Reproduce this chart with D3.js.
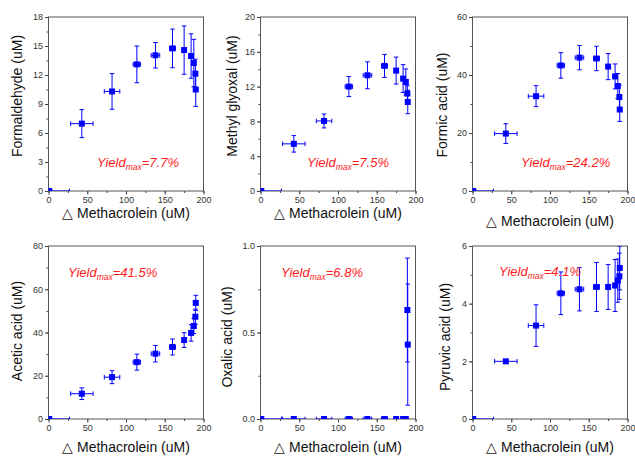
<!DOCTYPE html>
<html>
<head>
<meta charset="utf-8">
<script src="https://cdn.jsdelivr.net/npm/d3@7"></script>
<style>
  body { margin: 0; background: #fff; }
  svg { font-family: "Liberation Sans", Arial, sans-serif; }
  .tick text { fill: #333; font-size: 9px; }
  .tick line { stroke: #444; }
</style>
</head>
<body>
<svg width="635" height="458"></svg>
<script>
// consumed methacrolein (uM) and its uncertainty, same for every product
var methacrolein    = [1, 43, 82, 114, 138, 160, 175, 184, 187.5, 189.5, 190];
var methacroleinErr = [26, 14.5, 10, 4.8, 5.5, 3.8, 2.2, 2, 1.5, 1.2, 1.2];

var formaldehyde     = [0, 6.97, 10.3, 13.1, 14.04, 14.75, 14.58, 13.96, 13.24, 12.14, 10.5];
var formaldehydeErr  = [0, 1.45, 1.85, 1.9, 1.32, 2.0, 2.5, 2.3, 2.45, 1.5, 1.75];
var methylGlyoxal    = [0, 5.42, 8.05, 12.0, 13.3, 14.38, 13.84, 12.92, 12.53, 11.2, 10.23];
var methylGlyoxalErr = [0, 0.95, 0.8, 1.15, 1.55, 1.32, 1.55, 1.6, 1.5, 0.9, 1.35];
var formicAcid       = [0, 19.8, 32.7, 43.3, 46.0, 45.7, 42.9, 39.5, 36.2, 32.4, 28.1];
var formicAcidErr    = [0, 3.4, 3.6, 4.4, 4.2, 4.2, 4.5, 4.3, 4.3, 4.1, 4.1];
var aceticAcid       = [0, 11.7, 19.35, 26.3, 30.2, 33.3, 36.5, 39.8, 43.0, 47.3, 53.7];
var aceticAcidErr    = [0, 2.7, 3.0, 3.7, 3.8, 3.7, 3.4, 3.8, 3.5, 3.5, 3.5];
var oxalicAcid       = [0, 0, 0, 0, 0, 0, 0, 0, 0, 0.63, 0.43];
var oxalicAcidErr    = [0, 0, 0, 0, 0, 0, 0, 0, 0, 0.30, 0.35];
var pyruvicAcid      = [0, 2.0, 3.24, 4.36, 4.5, 4.58, 4.58, 4.63, 4.8, 4.95, 5.24];
var pyruvicAcidErr   = [0, 0.03, 0.72, 0.74, 0.75, 0.85, 0.78, 0.9, 0.75, 0.8, 0.76];

var xTicks = [0, 50, 100, 150, 200];
var xLabel = "\u25B3 Methacrolein (uM)";

var panels = [
    {name: "Formaldehyde (uM)",   y: formaldehyde,  err: formaldehydeErr,  max: 18,  ticks: [0, 3, 6, 9, 12, 15, 18],   fmt: "d",   yieldText: "=7.7%"},
    {name: "Methyl glyoxal (uM)", y: methylGlyoxal, err: methylGlyoxalErr, max: 20,  ticks: [0, 4, 8, 12, 16, 20],      fmt: "d",   yieldText: "=7.5%"},
    {name: "Formic acid (uM)",    y: formicAcid,    err: formicAcidErr,    max: 60,  ticks: [0, 20, 40, 60],            fmt: "d",   yieldText: "=24.2%"},
    {name: "Acetic acid (uM)",    y: aceticAcid,    err: aceticAcidErr,    max: 80,  ticks: [0, 20, 40, 60, 80],        fmt: "d",   yieldText: "=41.5%"},
    {name: "Oxalic acid (uM)",    y: oxalicAcid,    err: oxalicAcidErr,    max: 1,   ticks: [0, 0.5, 1],                fmt: ".1f", yieldText: "=6.8%"},
    {name: "Pyruvic acid (uM)",   y: pyruvicAcid,   err: pyruvicAcidErr,   max: 6,   ticks: [0, 2, 4, 6],               fmt: "d",   yieldText: "=4.1%"}
];

// layout of each panel box (left, top), label placements
var boxes = [
    {l: 48.5,  t: 17,  w: 155, h: 174, ylx: 17,  yly: 96,  xly: 218, yx: 97,  yy: 167},
    {l: 260.5, t: 17,  w: 155, h: 174, ylx: 232, yly: 96,  xly: 218, yx: 307, yy: 167},
    {l: 472.5, t: 17,  w: 155, h: 174, ylx: 442, yly: 105, xly: 226, yx: 521, yy: 167},
    {l: 48.5,  t: 246, w: 155, h: 173, ylx: 17,  yly: 331, xly: 452, yx: 68,  yy: 277},
    {l: 260.5, t: 246, w: 155, h: 173, ylx: 227, yly: 337, xly: 452, yx: 281, yy: 277},
    {l: 472.5, t: 246, w: 155, h: 173, ylx: 445, yly: 337, xly: 452, yx: 499, yy: 276}
];

var svg = d3.select("svg");
var blue = "#0000ff";

panels.forEach(function (p, i) {
    var b = boxes[i];
    var g = svg.append("g").attr("transform", "translate(" + b.l + "," + b.t + ")");

    var x = d3.scaleLinear().domain([0, 200]).range([0, b.w]);
    var y = d3.scaleLinear().domain([0, p.max]).range([b.h, 0]);

    var step = p.ticks[1] - p.ticks[0];
    var minorY = d3.range(0, p.max + step / 4, step / 2);

    // minor ticks first, majors on top
    g.append("g").attr("transform", "translate(0," + b.h + ")")
        .call(d3.axisBottom(x).tickValues(d3.range(0, 201, 25)).tickSize(2).tickFormat(""))
        .call(function (s) { s.select(".domain").remove(); });
    g.append("g")
        .call(d3.axisLeft(y).tickValues(minorY).tickSize(2).tickFormat(""))
        .call(function (s) { s.select(".domain").remove(); });

    g.append("g").attr("transform", "translate(0," + b.h + ")")
        .call(d3.axisBottom(x).tickValues(xTicks).tickSize(3.5).tickPadding(2).tickFormat(d3.format("d")))
        .call(function (s) { s.select(".domain").remove(); });
    g.append("g")
        .call(d3.axisLeft(y).tickValues(p.ticks).tickSize(3.5).tickPadding(2).tickFormat(d3.format(p.fmt)))
        .call(function (s) { s.select(".domain").remove(); });

    // frame
    g.append("rect").attr("width", b.w).attr("height", b.h)
        .attr("fill", "none").attr("stroke", "#555").attr("stroke-width", 1);

    var clipId = "clip" + i;
    g.append("clipPath").attr("id", clipId)
        .append("rect").attr("width", b.w).attr("height", b.h);

    var pts = methacrolein.map(function (m, k) {
        return {x: m, xe: methacroleinErr[k], y: p.y[k], ye: p.err[k]};
    });

    var marks = g.append("g").attr("clip-path", "url(#" + clipId + ")");
    var cap = 2.3;

    pts.forEach(function (d) {
        var cx = x(d.x), cy = y(d.y);
        var eg = marks.append("g").attr("stroke", blue).attr("stroke-width", 1).attr("fill", "none");
        if (d.ye > 0) {
            eg.append("line").attr("x1", cx).attr("x2", cx).attr("y1", y(d.y - d.ye)).attr("y2", y(d.y + d.ye));
            eg.append("line").attr("x1", cx - cap).attr("x2", cx + cap).attr("y1", y(d.y + d.ye)).attr("y2", y(d.y + d.ye));
            eg.append("line").attr("x1", cx - cap).attr("x2", cx + cap).attr("y1", y(d.y - d.ye)).attr("y2", y(d.y - d.ye));
        }
        if (d.xe > 0) {
            eg.append("line").attr("y1", cy).attr("y2", cy).attr("x1", x(d.x - d.xe)).attr("x2", x(d.x + d.xe));
            eg.append("line").attr("y1", cy - cap).attr("y2", cy + cap).attr("x1", x(d.x - d.xe)).attr("x2", x(d.x - d.xe));
            eg.append("line").attr("y1", cy - cap).attr("y2", cy + cap).attr("x1", x(d.x + d.xe)).attr("x2", x(d.x + d.xe));
        }
    });

    marks.selectAll("rect.pt").data(pts).enter().append("rect")
        .attr("class", "pt")
        .attr("x", function (d) { return x(d.x) - 3; })
        .attr("y", function (d) { return y(d.y) - 3; })
        .attr("width", 6).attr("height", 6)
        .attr("fill", blue);

    // axis titles
    svg.append("text")
        .attr("x", b.l + b.w / 2).attr("y", b.xly)
        .attr("text-anchor", "middle")
        .style("font-size", "14px").attr("fill", "#111")
        .text(xLabel);

    svg.append("text")
        .attr("transform", "translate(" + b.ylx + "," + b.yly + ") rotate(-90)")
        .attr("dy", "0.35em")
        .attr("text-anchor", "middle")
        .style("font-size", "14px").attr("fill", "#111")
        .text(p.name);

    // yield annotation
    var t = svg.append("text")
        .attr("x", b.yx).attr("y", b.yy)
        .attr("fill", "#ff1a1a").style("font-style", "italic").style("font-size", "13px");
    t.append("tspan").text("Yield");
    t.append("tspan").attr("dy", 3).style("font-size", "8.5px").text("max");
    t.append("tspan").attr("dy", -3).text(p.yieldText);
});
</script>
</body>
</html>
